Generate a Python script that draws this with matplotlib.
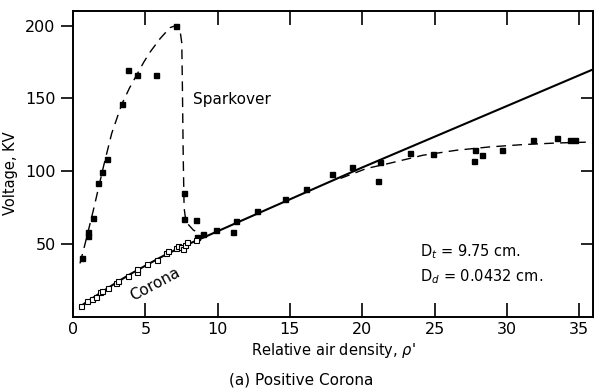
import matplotlib
matplotlib.use("Agg")
import matplotlib.pyplot as plt

# Sparkover points (filled squares), low density side
spark_x = [0.64, 1.06, 1.06, 1.36, 1.75, 2.03, 2.37, 3.37, 3.8, 4.4, 5.74, 7.12, 7.65, 7.65, 8.5]
spark_y = [40, 55.3, 58, 67.5, 92, 99.5, 108.6, 146, 169.7, 166, 166, 200, 84.7, 67, 66.3]

# Filled squares at higher density
high_x = [8.6, 9.01, 9.87, 11.04, 11.27, 12.75, 14.66, 16.1, 17.9, 19.27, 21.07, 21.2,
          23.3, 24.9, 27.7, 27.8, 28.3, 29.65, 31.8, 33.45, 34.4, 34.7]
high_y = [55, 56.5, 59.5, 58.3, 65.9, 72.7, 81, 87.4, 98.3, 102.9, 93, 106.3,
          112.5, 112, 106.8, 114.3, 111.4, 114.8, 121.7, 123, 121.7, 121.2]

# Corona onset points (open squares)
corona_x = [0.53, 0.99, 1.34, 1.57, 1.87, 2.03, 2.4, 3.0, 3.09, 3.83, 4.4, 4.45,
            5.14, 5.79, 6.45, 6.6, 7.1, 7.25, 7.45, 7.6, 7.75, 7.9, 8.5]
corona_y = [7.1, 10.5, 12.3, 13.7, 16.7, 17.4, 19.5, 23, 24.5, 27.9, 30.4, 32.5,
            36.1, 38.9, 44, 45, 47, 48.5, 48, 46.5, 49.5, 51.5, 53]

# Solid corona curve
line_x = [0.5, 1, 2, 3, 4, 5, 6, 7, 8, 9, 12, 20, 36]
line_y = [7, 10.5, 17, 23.5, 29.5, 35, 40.5, 45.5, 50, 54.3, 67.5, 102.5, 170]

# Dashed sparkover curve
sc_x = [0.48, 0.83, 1.4, 2.1, 2.67, 3.37, 3.9, 4.4, 4.9, 5.33, 6.02, 6.7, 7.12, 7.4,
        7.52, 7.56, 7.62, 7.68, 7.78, 8.0, 8.32, 8.78, 9.2]
sc_y = [36.6, 50, 73, 103, 125.8, 146, 157, 166, 175, 181.8, 191, 198.5, 200, 196.6,
        188, 160, 110, 75, 67, 63, 59.5, 57.2, 56.5]

# Dashed saturation curve at high density
sat_x = [18.5, 20.3, 21.9, 24.2, 26.5, 28.8, 31.1, 33.45, 35.95]
sat_y = [95, 101.8, 105.4, 110.9, 114.3, 116.6, 118.2, 119.3, 120]

fig = plt.figure(figsize=(5.94, 3.91), dpi=100)
ax = fig.add_axes([0.123, 0.19, 0.875, 0.782])

ax.plot(line_x, line_y, color="black", lw=1.5)
ax.plot(sc_x, sc_y, color="black", lw=1.0, dashes=(7, 4.5))
ax.plot(sat_x, sat_y, color="black", lw=1.0, dashes=(7, 4.5))
ax.plot(spark_x, spark_y, "s", color="black", ms=3.6)
ax.plot(high_x, high_y, "s", color="black", ms=3.6)
ax.plot(corona_x, corona_y, "s", mfc="white", mec="black", mew=0.8, ms=3.6)

ax.set_xlim(0, 35.95)
ax.set_ylim(0, 210)
ax.set_xticks([0, 5, 10, 15, 20, 25, 30, 35])
ax.set_yticks([50, 100, 150, 200])
ax.tick_params(axis="x", direction="in", top=True, length=10, width=1.2, labelsize=11.5)
ax.tick_params(axis="y", direction="out", length=9, width=1.2, labelsize=11.5)
for s in ax.spines.values():
    s.set_linewidth(1.4)

right = ax.secondary_yaxis("right")
right.set_yticks([50, 100, 150])
right.tick_params(direction="in", length=9, width=1.2, labelright=False)

ax.set_xlabel("Relative air density, $\\rho$'", fontsize=10.5, labelpad=3)
ax.set_ylabel("Voltage, KV", fontsize=10.5)
ax.yaxis.set_label_coords(-0.105, 0.47)

ax.text(8.3, 149, "Sparkover", fontsize=11, va="center")
ax.text(5.7, 22.5, "Corona", fontsize=11, rotation=28, ha="center", va="center")
ax.text(24, 45, "D$_t$ = 9.75 cm.", fontsize=10.5, va="center")
ax.text(24, 27.5, "D$_d$ = 0.0432 cm.", fontsize=10.5, va="center")

fig.text(0.507, 0.028, "(a) Positive Corona", ha="center", va="center", fontsize=11,
         family=["Liberation Sans Narrow", "DejaVu Sans"])

fig.savefig("out.png", dpi=100)
